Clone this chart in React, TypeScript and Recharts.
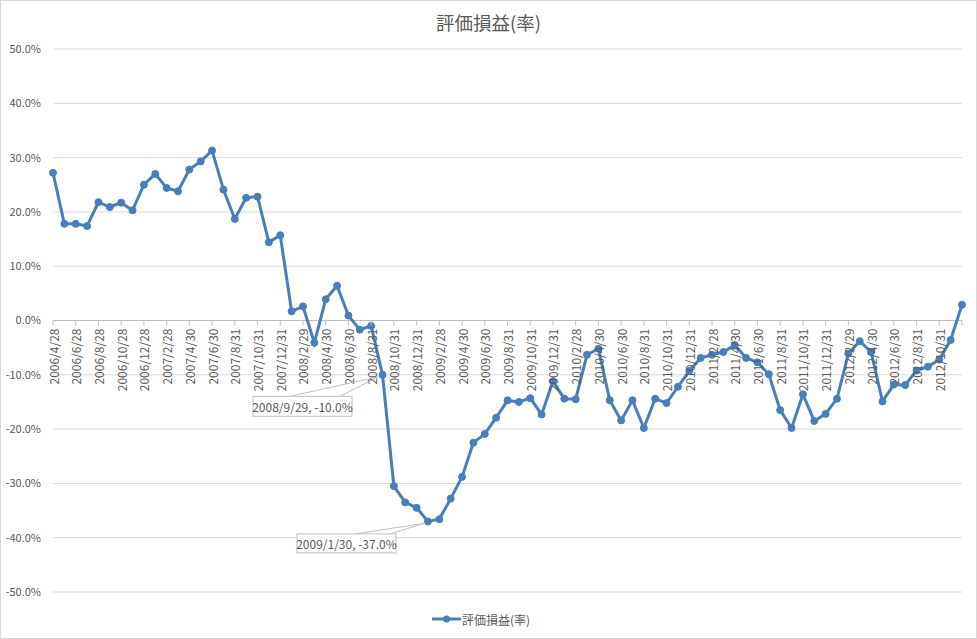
import { LineChart, Line, XAxis, YAxis, CartesianGrid, ReferenceLine, Legend, LabelList } from "recharts"

const dates = [
  "2006/4/28", "2006/5/28", "2006/6/28", "2006/7/28", "2006/8/28", "2006/9/28", "2006/10/28", "2006/11/28", "2006/12/28",
  "2007/1/31", "2007/2/28", "2007/3/30", "2007/4/30", "2007/5/31", "2007/6/30", "2007/7/31", "2007/8/31", "2007/9/28",
  "2007/10/31", "2007/11/30", "2007/12/31",
  "2008/1/31", "2008/2/29", "2008/3/31", "2008/4/30", "2008/5/30", "2008/6/30", "2008/7/31", "2008/8/31", "2008/9/29",
  "2008/10/31", "2008/11/28", "2008/12/31",
  "2009/1/30", "2009/2/28", "2009/3/31", "2009/4/30", "2009/5/29", "2009/6/30", "2009/7/31", "2009/8/31", "2009/9/30",
  "2009/10/31", "2009/11/30", "2009/12/31",
  "2010/1/29", "2010/2/28", "2010/3/31", "2010/4/30", "2010/5/31", "2010/6/30", "2010/7/30", "2010/8/31", "2010/9/30",
  "2010/10/31", "2010/11/30", "2010/12/31",
  "2011/1/31", "2011/2/28", "2011/3/31", "2011/4/30", "2011/5/31", "2011/6/30", "2011/7/29", "2011/8/31", "2011/9/30",
  "2011/10/31", "2011/11/30", "2011/12/31",
  "2012/1/31", "2012/2/29", "2012/3/30", "2012/4/30", "2012/5/31", "2012/6/30", "2012/7/31", "2012/8/31", "2012/9/28",
  "2012/10/31", "2012/11/30", "2012/12/28",
]

// 評価損益(率) in %
const rates = [
  27.2, 17.8, 17.8, 17.4, 21.8, 20.9, 21.7, 20.3, 25.0,
  27.0, 24.4, 23.8, 27.8, 29.3, 31.3, 24.1, 18.7, 22.6,
  22.8, 14.4, 15.7,
  1.7, 2.6, -4.1, 3.9, 6.4, 0.9, -1.7, -1.0, -10.0,
  -30.5, -33.5, -34.5,
  -37.0, -36.6, -32.8, -28.8, -22.5, -20.9, -17.9, -14.7, -15.0,
  -14.3, -17.3, -11.2,
  -14.4, -14.5, -6.3, -5.2, -14.7, -18.4, -14.7, -19.8, -14.4,
  -15.2, -12.2, -9.3,
  -6.9, -6.3, -5.8, -4.5, -6.9, -7.7, -9.9, -16.5, -19.8,
  -13.6, -18.5, -17.2,
  -14.4, -6.1, -3.8, -5.8, -14.9, -11.8, -11.9, -9.2, -8.5,
  -7.2, -3.6, 2.9,
]

const yTicks = [50, 40, 30, 20, 10, 0, -10, -20, -30, -40, -50]

const seriesName = "評価損益(率)"
const calloutDates = ["2008/9/29", "2009/1/30"]

const data = dates.map((date, i) => ({ date, rate: rates[i] }))

const W = 977
const H = 639
const TOP = 49
const PLOT_BOTTOM = 592
const ZERO_Y = TOP + (PLOT_BOTTOM - TOP) / 2
const FONT = "'Noto Sans CJK JP', 'Noto Sans', sans-serif"
const BLUE = "#4a7ebb"
const GRAY_TEXT = "#595959"

// box placement relative to the point, and where the leader lines leave the box
const calloutBox: Record<string, { dx: number; dy: number; w: number; h: number; a: number; b: number }> = {
  "2008/9/29": { dx: -129.5, dy: 21.5, w: 99, h: 20, a: 37, b: 87 },
  "2009/1/30": { dx: -131, dy: 12.5, w: 99, h: 19, a: 58, b: 93 },
}

const AxisTick = (props: any) => {
  const { x, payload } = props
  const y = ZERO_Y
  const last = payload.value === dates[dates.length - 1]
  return (
    <g>
      <line x1={x} x2={x} y1={y} y2={y + 5} stroke="#bfbfbf" />
      {!last && (
        <text
          x={x}
          y={y + 8}
          transform={`rotate(-90, ${x}, ${y + 8})`}
          textAnchor="end"
          dominantBaseline="central"
          fontSize={12}
          fontFamily={FONT}
          fill={GRAY_TEXT}
        >
          {payload.value}
        </text>
      )}
    </g>
  )
}

const Callout = (props: any) => {
  const { x, y, index } = props
  const d = data[index]
  if (!d || !calloutDates.includes(d.date)) return null
  const c = calloutBox[d.date]
  const left = x + c.dx
  const top = y + c.dy
  return (
    <g>
      <line x1={left + c.a} y1={top} x2={x - 4} y2={y + 2} stroke="#bfbfbf" />
      <line x1={left + c.b} y1={top} x2={x - 4} y2={y + 2} stroke="#bfbfbf" />
      <rect x={left} y={top} width={c.w} height={c.h} fill="#fff" stroke="#bfbfbf" />
      <text
        x={left + c.w / 2}
        y={top + c.h / 2}
        textAnchor="middle"
        dominantBaseline="central"
        fontSize={12}
        fontFamily={FONT}
        fill={GRAY_TEXT}
      >
        {`${d.date}, ${d.rate.toFixed(1)}%`}
      </text>
    </g>
  )
}

const LegendContent = () => (
  <div style={{ display: "flex", justifyContent: "center", alignItems: "center", height: 20, fontFamily: FONT }}>
    <svg width={29} height={10}>
      <line x1={0} x2={29} y1={5} y2={5} stroke={BLUE} strokeWidth={3} />
      <circle cx={14.5} cy={5} r={3.5} fill={BLUE} />
    </svg>
    <span style={{ fontSize: 12, color: GRAY_TEXT, marginLeft: 1 }}>{seriesName}</span>
  </div>
)

export default function App() {
  return (
    <div style={{ position: "relative", width: W, height: H, boxShadow: "inset 0 0 0 1px #d9d9d9", background: "#fff" }}>
      <style>{`body { margin: 0; }`}</style>
      <div
        style={{
          position: "absolute",
          top: 9,
          left: 0,
          width: W,
          textAlign: "center",
          fontFamily: FONT,
          fontSize: 18.5,
          lineHeight: "27px",
          color: GRAY_TEXT,
        }}
      >
        {seriesName}
      </div>
      <LineChart width={W} height={H} data={data} margin={{ top: TOP, right: 15, left: 0, bottom: 10 }}>
        <CartesianGrid vertical={false} stroke="#d9d9d9" />
        <XAxis dataKey="date" interval={1} height={17} axisLine={false} tickLine={false} tick={<AxisTick />} />
        <YAxis
          domain={[-50, 50]}
          ticks={yTicks}
          width={53}
          axisLine={false}
          tickLine={false}
          tickMargin={6}
          tickFormatter={(v: number) => `${v.toFixed(1)}%`}
          tick={{ fontSize: 11, fill: GRAY_TEXT, fontFamily: FONT }}
        />
        <ReferenceLine y={0} stroke="#bfbfbf" />
        <Legend verticalAlign="bottom" height={20} content={<LegendContent />} />
        <Line
          type="linear"
          dataKey="rate"
          name={seriesName}
          stroke={BLUE}
          strokeWidth={3}
          dot={{ r: 3.5, fill: BLUE, stroke: BLUE, strokeWidth: 1 }}
          activeDot={false}
          isAnimationActive={false}
        >
          <LabelList dataKey="rate" content={<Callout />} />
        </Line>
      </LineChart>
    </div>
  )
}
